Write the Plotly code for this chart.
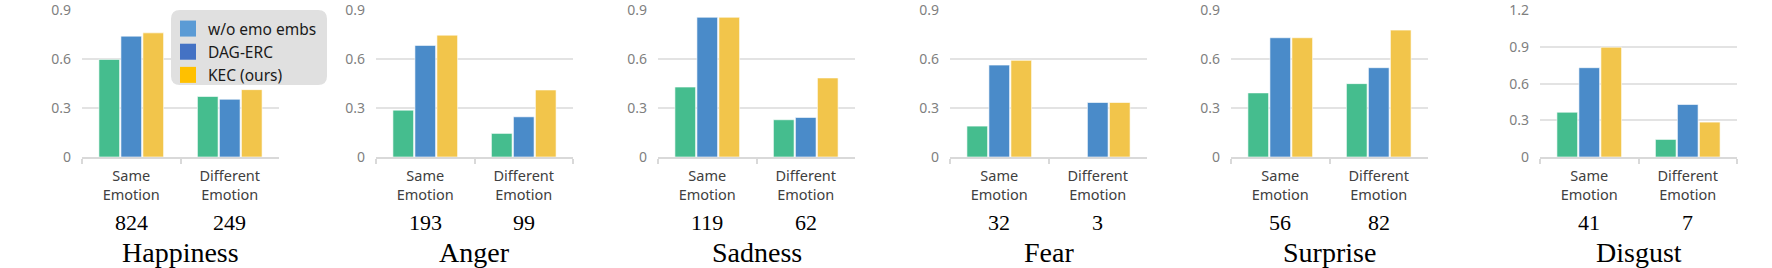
import plotly.graph_objects as go

# ---------------- data ----------------
emotions = ["Happiness", "Anger", "Sadness", "Fear", "Surprise", "Disgust"]
categories = ["Same<br>Emotion", "Different<br>Emotion"]
same_counts = [824, 193, 119, 32, 56, 41]
diff_counts = [249, 99, 62, 3, 82, 7]

wo_same = [0.60, 0.288, 0.430, 0.190, 0.394, 0.367]
wo_diff = [0.372, 0.145, 0.229, 0.0, 0.451, 0.144]
dag_same = [0.743, 0.686, 0.859, 0.565, 0.733, 0.732]
dag_diff = [0.355, 0.247, 0.243, 0.335, 0.549, 0.430]
kec_same = [0.763, 0.749, 0.859, 0.594, 0.733, 0.900]
kec_diff = [0.414, 0.412, 0.486, 0.335, 0.780, 0.286]

y_max = [0.9, 0.9, 0.9, 0.9, 0.9, 1.2]
legend_names = ["w/o emo embs", "DAG-ERC", "KEC (ours)"]

# ---------------- style ----------------
W, H = 1772, 268
BAR_COLORS = ["#45BD8E", "#4A8BC9", "#F2C54B"]
LEGEND_COLORS = ["#5B9BD5", "#4472C4", "#FFC000"]
SANS = "Noto Sans, Open Sans, sans-serif"
SERIF = "Liberation Serif, Times New Roman, serif"
GRID = "#E3E3E3"

panel_left_px = [82, 376, 658, 950, 1231, 1540]
panel_w_px = 197
plot_top_px, plot_bot_px = 10, 157

fig = go.Figure()
series = [(wo_same, wo_diff), (dag_same, dag_diff), (kec_same, kec_diff)]

layout_axes = {}
annotations = []
for i, emo in enumerate(emotions):
    n = "" if i == 0 else str(i + 1)
    for k, (s, d) in enumerate(series):
        fig.add_trace(go.Bar(
            x=categories, y=[s[i], d[i]],
            xaxis="x" + n, yaxis="y" + n,
            marker=dict(color=BAR_COLORS[k], line=dict(color="white", width=0.6)),
            showlegend=False, name=legend_names[k],
        ))
    x0 = panel_left_px[i] / W
    x1 = (panel_left_px[i] + panel_w_px) / W
    layout_axes["xaxis" + n] = dict(
        domain=[x0, x1], anchor="y" + n, type="category", automargin=False,
        showline=True, linecolor="#D9D9D9", linewidth=1.5,
        ticks="outside", tickson="boundaries", ticklen=5, tickcolor="#D9D9D9", tickwidth=1.5,
        tickfont=dict(family=SANS, size=14.5, color="#404040"),
        ticklabelstandoff=5, showgrid=False, fixedrange=True,
    )
    tv = [round(0.3 * j, 1) for j in range(int(round(y_max[i] / 0.3)) + 1)]
    layout_axes["yaxis" + n] = dict(
        domain=[1 - plot_bot_px / H, 1 - plot_top_px / H], anchor="x" + n, automargin=False,
        range=[0, y_max[i] * 1.004], tickvals=tv,
        ticktext=[("0" if v == 0 else f"{v:.1f}") for v in tv],
        showgrid=True, gridcolor=GRID, gridwidth=1.5, zeroline=False, showline=False,
        tickfont=dict(family=SANS, size=14, color="#7F7F7F"),
        ticklabelstandoff=10, fixedrange=True,
    )
    for cx, cnt in ((0.25, same_counts[i]), (0.75, diff_counts[i])):
        annotations.append(dict(
            xref="x" + n + " domain", yref="paper", x=cx, y=1 - 222 / H,
            text=str(cnt), showarrow=False, xanchor="center", yanchor="middle",
            font=dict(family=SERIF, size=22, color="black"),
        ))
    annotations.append(dict(
        xref="x" + n + " domain", yref="paper", x=0.5, y=1 - 252 / H,
        text=emo, showarrow=False, xanchor="center", yanchor="middle",
        font=dict(family=SERIF, size=28, color="black"),
    ))

# legend entries (colours as shown in the reference legend)
for k, name in enumerate(legend_names):
    fig.add_trace(go.Scatter(
        x=[None], y=[None], mode="markers", name=name,
        marker=dict(symbol="square", size=16, color=LEGEND_COLORS[k]),
        xaxis="x", yaxis="y", showlegend=True,
    ))

# rounded legend background
lx0, lx1, ly0, ly1, r = 171, 327, 10, 85, 9
def px(x): return x / W
def py(y): return 1 - y / H
path = (f"M {px(lx0 + r)},{py(ly0)} L {px(lx1 - r)},{py(ly0)} "
        f"Q {px(lx1)},{py(ly0)} {px(lx1)},{py(ly0 + r)} "
        f"L {px(lx1)},{py(ly1 - r)} Q {px(lx1)},{py(ly1)} {px(lx1 - r)},{py(ly1)} "
        f"L {px(lx0 + r)},{py(ly1)} Q {px(lx0)},{py(ly1)} {px(lx0)},{py(ly1 - r)} "
        f"L {px(lx0)},{py(ly0 + r)} Q {px(lx0)},{py(ly0)} {px(lx0 + r)},{py(ly0)} Z")

fig.update_layout(
    width=W, height=H, autosize=False,
    margin=dict(l=0, r=0, t=0, b=0, pad=0),
    paper_bgcolor="white", plot_bgcolor="white",
    barmode="group", bargap=0.33, bargroupgap=0.06,
    showlegend=True,
    legend=dict(
        x=px(lx0 - 3), y=py(ly0 + 2), xanchor="left", yanchor="top",
        bgcolor="rgba(0,0,0,0)", borderwidth=0,
        font=dict(family=SANS, size=15.5, color="#1A1A1A"),
        itemsizing="trace", tracegroupgap=0,
    ),
    shapes=[dict(type="path", xref="paper", yref="paper", path=path,
                 fillcolor="#E0E0E0", line=dict(width=0), layer="above")],
    annotations=annotations,
    **layout_axes,
)

fig.write_html("out.html", config={"displayModeBar": False},
               post_script="document.body.style.margin='0';")
